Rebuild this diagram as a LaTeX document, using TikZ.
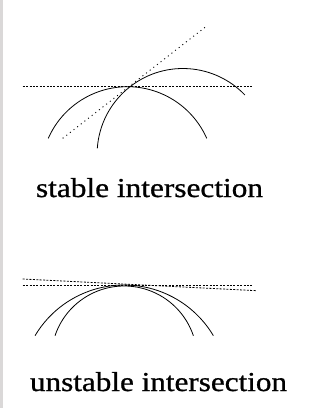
\documentclass[tikz,border=0pt]{standalone}
\usepackage{fontspec}
\setmainfont{Liberation Serif}
\newfontfamily\labelfont[FakeBold=0.8]{Liberation Serif}
\usepackage{graphicx}
\definecolor{stripgray}{RGB}{218,216,216}
\begin{document}
\begin{tikzpicture}[x=1pt,y=-1pt,
  curve/.style={line width=0.8pt,black},
  hdots/.style={line width=0.8pt,dash pattern=on 2pt off 1.4pt},
  ddots/.style={line width=0.9pt,dash pattern=on 1pt off 3.6pt},
  label/.style={anchor=base west,inner sep=0pt,outer sep=0pt,font=\labelfont}]
\useasboundingbox (0,0) rectangle (320,408);
\fill[white] (0,0) rectangle (320,408);
\fill[stripgray] (0,0) rectangle (3,408);
% stable intersection
\coordinate (cR) at (182.9,154.3);
\coordinate (cL) at (127.5,173.3);
\draw[curve] (cL) ++(-156.2:86.6) arc[start angle=-156.2,end angle=-23.8,radius=86.6];
\draw[curve] (cR) ++(-176:85.8) arc[start angle=-176,end angle=-43.7,radius=85.8];
\coordinate (h1) at (22.7,86.7);
\coordinate (h2) at (253,86.7);
\draw[hdots] (h1) -- (h2);
\coordinate (d1) at (62.7,138.3);
\coordinate (d2) at (205,27.3);
\draw[ddots] (d1) -- (d2);
\node[label] (t1) at (36,197) {\resizebox{227pt}{19pt}{stable intersection}};
% unstable intersection
\coordinate (cO) at (124.2,388.8);
\coordinate (cI) at (124.2,359);
\draw[curve] (cO) ++(-149.2:103.8) arc[start angle=-149.2,end angle=-30.8,radius=103.8];
\draw[curve] (cI) ++(-161.4:73) arc[start angle=-161.4,end angle=-18.6,radius=73];
\coordinate (u1) at (22.7,285);
\coordinate (u2) at (252,285);
\draw[hdots] (u1) -- (u2);
\coordinate (s1) at (22.7,279);
\coordinate (s2) at (257,290.7);
\draw[hdots] (s1) -- (s2);
\node[label] (t2) at (30,391) {\resizebox{257pt}{19pt}{unstable intersection}};
\end{tikzpicture}
\end{document}
